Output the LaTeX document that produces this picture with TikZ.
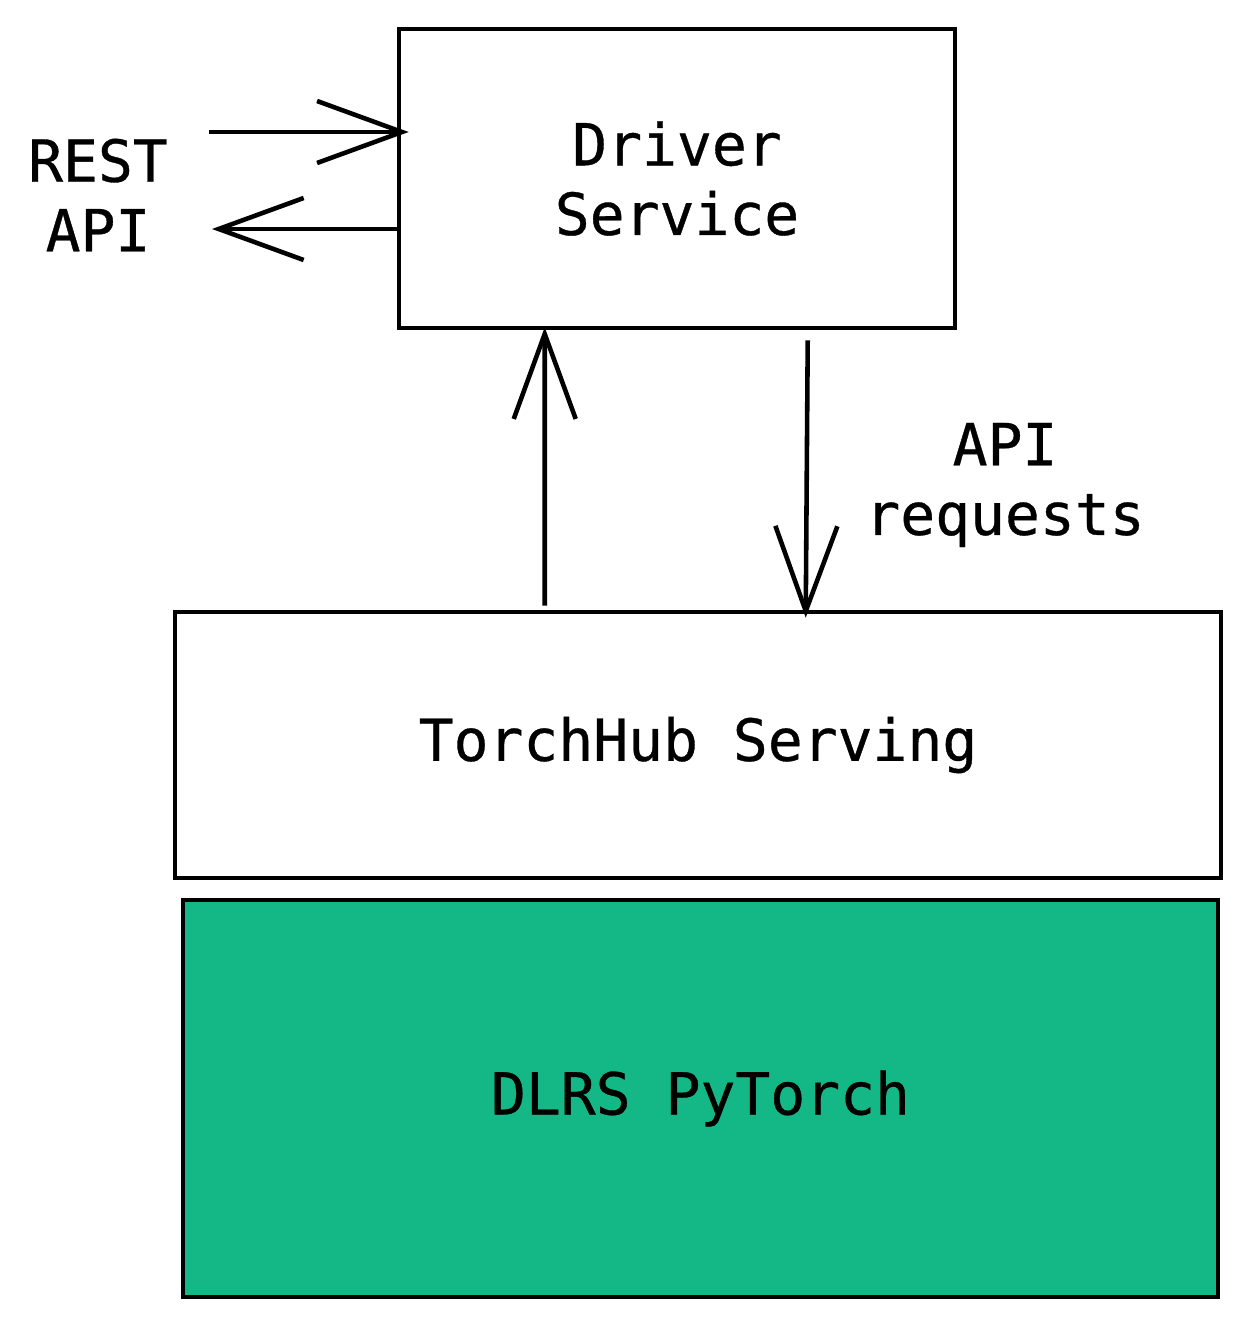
\documentclass[tikz,border=0pt]{standalone}
\usepackage{fontspec}
\newfontfamily\diagfont{DejaVu Sans Mono}[FakeBold=0.6]
\usetikzlibrary{positioning, arrows.meta}

\definecolor{dlrsgreen}{HTML}{13B886}

\begin{document}
\begin{tikzpicture}[
    box/.style={draw, line width=1.3pt, align=center, inner sep=0pt},
    lbl/.style={align=center, inner sep=0pt},
    arr/.style={line width=1.3pt, -{Straight Barb[length=8.5mm,width=6.2mm]}},
    every node/.style={font=\diagfont\fontsize{16.5}{19.8}\selectfont}
  ]
  \useasboundingbox (0,0) rectangle (12.52,-13.28);

  % boxes
  \node[box, minimum width=5.56cm, minimum height=2.99cm] (driver) at (6.77,-1.785) {Driver\\Service};
  \node[box, minimum width=10.46cm, minimum height=2.66cm] (torch) at (6.98,-7.45) {TorchHub Serving};
  \node[box, fill=dlrsgreen, minimum width=10.35cm, minimum height=3.97cm] (dlrs) at (7.005,-10.985) {DLRS PyTorch};

  % labels
  \node[lbl] (rest) at (0.98,-1.95) {REST\\API};
  \node[lbl] (apireq) at (10.05,-4.85) {API\\requests};

  % REST arrows
  \coordinate (restin) at (2.09,-1.32);
  \coordinate (restout) at (2.12,-2.29);
  \draw[arr] (restin) -- ([xshift=0.12cm]restin -| driver.west);
  \draw[arr] (driver.west |- restout) -- (restout);

  % up and down arrows
  \draw[arr] ([xshift=3.72cm,yshift=0.04cm]torch.north west) -- ([xshift=1.48cm,yshift=0.03cm]driver.south west);
  \draw[arr] ([xshift=4.11cm,yshift=-0.1cm]driver.south west) -- ([xshift=6.33cm,yshift=-0.08cm]torch.north west);
\end{tikzpicture}
\end{document}
